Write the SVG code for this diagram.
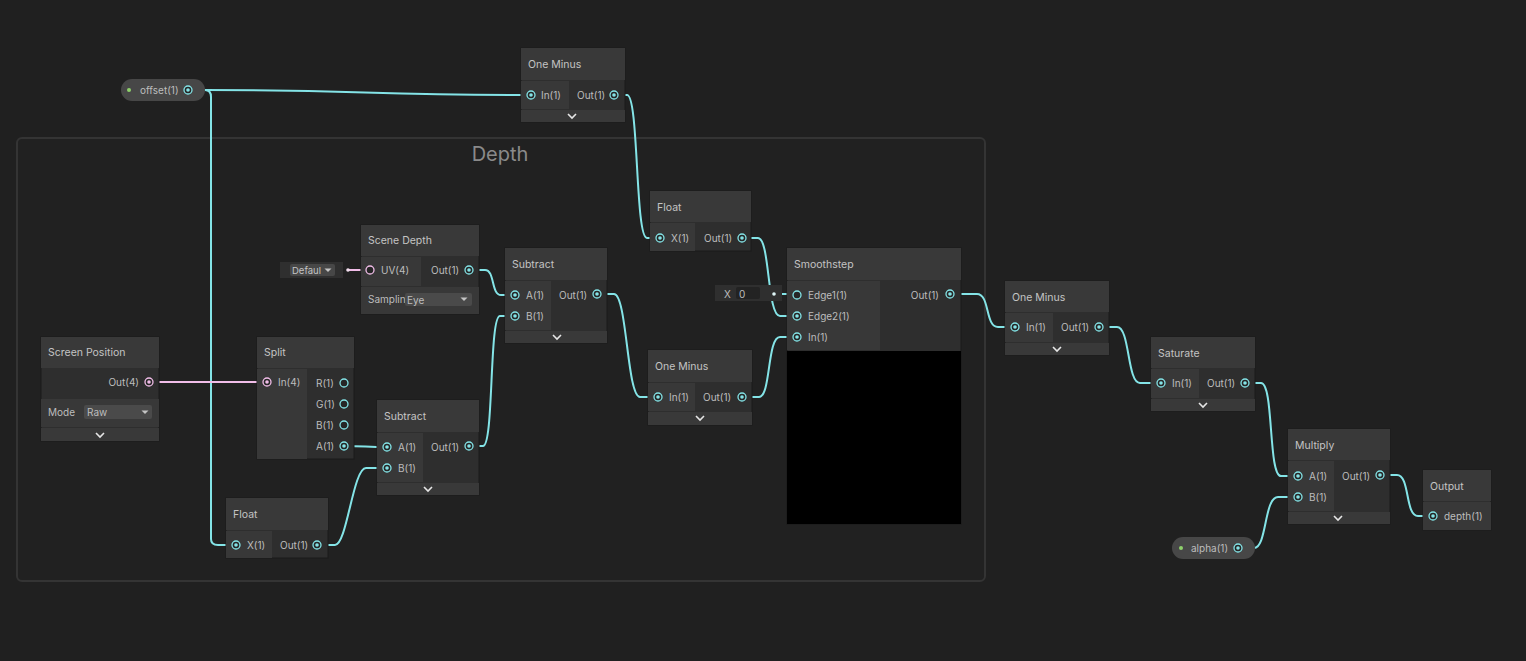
<svg xmlns="http://www.w3.org/2000/svg" width="1526" height="661" viewBox="0 0 1526 661">
<style>
.bg{fill:#202020}
.nb{fill:#2e2e2e;stroke:#1b1b1b;stroke-width:1}
.hd{fill:#393939}
.ic{fill:#383838}
.ft{fill:#393939}
.h{font-family:Inter,"Liberation Sans",sans-serif;font-size:10.5px;fill:#c4c4c4}
.t{font-family:Inter,"Liberation Sans",sans-serif;font-size:10px;fill:#bdbdbd}
.ts{font-family:Inter,"Liberation Sans",sans-serif;font-size:9.5px;fill:#c4c4c4}
.e{stroke:#84e4e7;stroke-width:2;fill:none}
.ep{stroke:#f1bde8;stroke-width:2;fill:none}
.ch{stroke:#e6e6e6;stroke-width:1.6;fill:none}
.dd{fill:#4a4a4a}
.tri{fill:#c4c4c4}
.pill{fill:#474747}
.gd{fill:#8ed16b}
</style>
<defs>
<g id="pf"><circle r="4" fill="#262626" stroke="#84e4e7" stroke-width="1.3"/><circle r="1.8" fill="#84e4e7"/></g>
<g id="ph"><circle r="4" fill="#262626" stroke="#84e4e7" stroke-width="1.3"/></g>
<g id="ppf"><circle r="4" fill="#262626" stroke="#f1bde8" stroke-width="1.3"/><circle r="1.8" fill="#f1bde8"/></g>
<g id="pph"><circle r="4" fill="#262626" stroke="#f1bde8" stroke-width="1.3"/></g>
<path id="chev" d="M-4,-2 L0,2 L4,-2" class="ch"/>
<path id="tr" d="M-3.5,-1.5 L3.5,-1.5 L0,2 Z" class="tri"/>
<clipPath id="clipSamp"><rect x="361" y="287" width="44" height="27"/></clipPath>
</defs>
<rect class="bg" x="0" y="0" width="1526" height="661"/>

<g id="group-depth">
<rect x="17" y="138" width="968" height="443" rx="5" fill="#212121" stroke="#343434" stroke-width="2"/>
<text x="500" y="161" text-anchor="middle" font-family="Inter,'Liberation Sans',sans-serif" font-size="20" fill="#8a8a8a">Depth</text>
</g>

<g id="connectors">
<path class="e" d="M188,90 H205 C360,90 370,95 531,95"/>
<path class="e" d="M205,90 Q211,90 211,97 V539 Q211,545 218,545 H236"/>
<path class="e" d="M614,95 H627 C639,95 635,238 647,238 H660"/>
<path class="e" d="M742,238 H758 C770,238 767,316 780,316 H797"/>
<path class="e" d="M774,294 H797"/>
<path class="e" d="M469,270 H485 C495,270 491,295 501,295 H515"/>
<path class="e" d="M469,446 H483 C494,446 489,316 500,316 H515"/>
<path class="e" d="M344,446 C365,446 366,447 387,447"/>
<path class="e" d="M317,545 H335 C347,545 353,468 366,468 H387"/>
<path class="e" d="M597,294 H614 C627,294 627,397 640,397 H658"/>
<path class="e" d="M742,397 H759 C771,397 767,337 780,337 H797"/>
<path class="e" d="M950,294 H977 C990,294 985,327 998,327 H1015"/>
<path class="e" d="M1099,327 H1117 C1130,327 1127,383 1140,383 H1161"/>
<path class="e" d="M1245,383 H1261 C1274,383 1268,476 1281,476 H1298"/>
<path class="e" d="M1238,548 H1254 C1267,548 1264,497 1278,497 H1298"/>
<path class="e" d="M1380,475 H1397 C1410,475 1405,516 1418,516 H1433"/>
<path class="ep" d="M149,382 H267"/>
<path class="ep" d="M348,270 H370"/>
</g>

<g id="node-offset">
<rect class="pill" x="121" y="79" width="84" height="22" rx="11"/>
<circle class="gd" cx="129" cy="90" r="2"/>
<text class="t" x="140" y="94">offset(1)</text>
<use href="#pf" x="188" y="90"/>
</g>

<g id="node-oneminus-top">
<rect class="nb" x="521" y="48" width="104" height="74"/>
<rect class="hd" x="521" y="48" width="104" height="32"/>
<rect class="ic" x="521" y="81" width="48" height="28"/>
<rect class="ft" x="521" y="110" width="104" height="12"/>
<text class="h" x="528" y="68">One Minus</text>
<use href="#pf" x="531" y="95"/>
<text class="t" x="541" y="99">In(1)</text>
<text class="t" x="577" y="99">Out(1)</text>
<use href="#pf" x="614" y="95"/>
<use href="#chev" x="572" y="116"/>
</g>

<g id="node-float-top">
<rect class="nb" x="650" y="191" width="101" height="60"/>
<rect class="hd" x="650" y="191" width="101" height="31"/>
<rect class="ic" x="650" y="223" width="45" height="28"/>
<text class="h" x="657" y="211">Float</text>
<use href="#pf" x="660" y="238"/>
<text class="t" x="671" y="242">X(1)</text>
<text class="t" x="704" y="242">Out(1)</text>
<use href="#pf" x="742" y="238"/>
</g>

<g id="node-scene-depth">
<rect x="280" y="262" width="63" height="16" fill="#2f2f2f"/>
<rect x="290" y="264" width="45" height="12" rx="2" fill="#474747"/>
<text class="ts" x="292" y="273.5">Defaul</text>
<use href="#tr" x="328" y="270"/>
<circle cx="348" cy="270" r="1.8" fill="#f4e0f0"/>
<rect class="nb" x="361" y="225" width="118" height="89"/>
<rect class="hd" x="361" y="225" width="118" height="31"/>
<rect class="ic" x="361" y="257" width="60" height="29"/>
<rect class="ic" x="361" y="287" width="118" height="27"/>
<text class="h" x="368" y="244">Scene Depth</text>
<use href="#pph" x="370" y="270"/>
<text class="t" x="381" y="274">UV(4)</text>
<text class="t" x="431" y="274">Out(1)</text>
<use href="#pf" x="469" y="270"/>
<text class="t" x="368" y="303" clip-path="url(#clipSamp)">Samplin</text>
<rect class="dd" x="405" y="293" width="67" height="13" rx="2"/>
<text class="t" x="407" y="303.5">Eye</text>
<use href="#tr" x="464" y="299"/>
</g>

<g id="node-subtract-top">
<rect class="nb" x="505" y="248" width="102" height="95"/>
<rect class="hd" x="505" y="248" width="102" height="32"/>
<rect class="ic" x="505" y="281" width="46" height="49"/>
<rect class="ft" x="505" y="331" width="102" height="12"/>
<text class="h" x="512" y="268">Subtract</text>
<use href="#pf" x="515" y="295"/>
<text class="t" x="526" y="299">A(1)</text>
<use href="#pf" x="515" y="316"/>
<text class="t" x="526" y="320">B(1)</text>
<text class="t" x="559" y="299">Out(1)</text>
<use href="#pf" x="597" y="294"/>
<use href="#chev" x="557" y="337"/>
</g>

<g id="node-screen-position">
<rect class="nb" x="41" y="337" width="118" height="104"/>
<rect class="hd" x="41" y="337" width="118" height="31"/>
<rect class="ic" x="41" y="399" width="118" height="28"/>
<rect class="ft" x="41" y="428" width="118" height="13"/>
<text class="h" x="48" y="356">Screen Position</text>
<text class="t" x="139" y="386" text-anchor="end">Out(4)</text>
<use href="#ppf" x="149" y="382"/>
<text class="t" x="48" y="416">Mode</text>
<rect class="dd" x="84" y="405" width="68" height="14" rx="2"/>
<text class="t" x="87" y="416">Raw</text>
<use href="#tr" x="145" y="412"/>
<use href="#chev" x="100" y="435"/>
</g>

<g id="node-split">
<rect class="nb" x="257" y="337" width="97" height="122"/>
<rect class="hd" x="257" y="337" width="97" height="31"/>
<rect class="ic" x="257" y="369" width="50" height="90"/>
<text class="h" x="264" y="356">Split</text>
<use href="#ppf" x="267" y="382"/>
<text class="t" x="278" y="386">In(4)</text>
<text class="t" x="316" y="387">R(1)</text>
<use href="#ph" x="344" y="383"/>
<text class="t" x="316" y="408">G(1)</text>
<use href="#ph" x="344" y="404"/>
<text class="t" x="316" y="429">B(1)</text>
<use href="#ph" x="344" y="425"/>
<text class="t" x="316" y="450">A(1)</text>
<use href="#pf" x="344" y="446"/>
</g>

<g id="node-subtract-lower">
<rect class="nb" x="377" y="400" width="102" height="95"/>
<rect class="hd" x="377" y="400" width="102" height="32"/>
<rect class="ic" x="377" y="433" width="46" height="49"/>
<rect class="ft" x="377" y="483" width="102" height="12"/>
<text class="h" x="384" y="420">Subtract</text>
<use href="#pf" x="387" y="447"/>
<text class="t" x="398" y="451">A(1)</text>
<use href="#pf" x="387" y="468"/>
<text class="t" x="398" y="472">B(1)</text>
<text class="t" x="431" y="451">Out(1)</text>
<use href="#pf" x="469" y="446"/>
<use href="#chev" x="428" y="489"/>
</g>

<g id="node-float-bottom">
<rect class="nb" x="226" y="498" width="102" height="60"/>
<rect class="hd" x="226" y="498" width="102" height="32"/>
<rect class="ic" x="226" y="531" width="46" height="27"/>
<text class="h" x="233" y="518">Float</text>
<use href="#pf" x="236" y="545"/>
<text class="t" x="247" y="549">X(1)</text>
<text class="t" x="280" y="549">Out(1)</text>
<use href="#pf" x="317" y="545"/>
</g>

<g id="node-oneminus-mid">
<rect class="nb" x="648" y="350" width="104" height="75"/>
<rect class="hd" x="648" y="350" width="104" height="32"/>
<rect class="ic" x="648" y="383" width="47" height="28"/>
<rect class="ft" x="648" y="412" width="104" height="13"/>
<text class="h" x="655" y="370">One Minus</text>
<use href="#pf" x="658" y="397"/>
<text class="t" x="669" y="401">In(1)</text>
<text class="t" x="703" y="401">Out(1)</text>
<use href="#pf" x="742" y="397"/>
<use href="#chev" x="700" y="418"/>
</g>

<g id="node-smoothstep">
<rect x="715" y="285" width="67" height="16" fill="#2f2f2f"/>
<text class="t" x="724" y="297.5">X</text>
<rect x="736" y="287" width="24" height="12" rx="2" fill="#232323"/>
<text class="t" x="739" y="297.5">0</text>
<circle cx="774" cy="294" r="1.8" fill="#dff6f7"/>
<rect class="nb" x="787" y="248" width="174" height="276"/>
<rect class="hd" x="787" y="248" width="174" height="32"/>
<rect class="ic" x="787" y="281" width="93" height="69"/>
<rect x="787" y="351" width="174" height="173" fill="#000"/>
<text class="h" x="794" y="268">Smoothstep</text>
<use href="#ph" x="797" y="295"/>
<text class="t" x="808" y="299">Edge1(1)</text>
<use href="#pf" x="797" y="316"/>
<text class="t" x="808" y="320">Edge2(1)</text>
<use href="#pf" x="797" y="337"/>
<text class="t" x="808" y="341">In(1)</text>
<text class="t" x="939" y="299" text-anchor="end">Out(1)</text>
<use href="#pf" x="950" y="294"/>
</g>

<g id="node-oneminus-right">
<rect class="nb" x="1005" y="281" width="104" height="74"/>
<rect class="hd" x="1005" y="281" width="104" height="31"/>
<rect class="ic" x="1005" y="313" width="48" height="29"/>
<rect class="ft" x="1005" y="343" width="104" height="12"/>
<text class="h" x="1012" y="301">One Minus</text>
<use href="#pf" x="1015" y="327"/>
<text class="t" x="1026" y="331">In(1)</text>
<text class="t" x="1061" y="331">Out(1)</text>
<use href="#pf" x="1099" y="327"/>
<use href="#chev" x="1057" y="349"/>
</g>

<g id="node-saturate">
<rect class="nb" x="1151" y="337" width="104" height="74"/>
<rect class="hd" x="1151" y="337" width="104" height="31"/>
<rect class="ic" x="1151" y="369" width="48" height="29"/>
<rect class="ft" x="1151" y="399" width="104" height="12"/>
<text class="h" x="1158" y="357">Saturate</text>
<use href="#pf" x="1161" y="383"/>
<text class="t" x="1172" y="387">In(1)</text>
<text class="t" x="1207" y="387">Out(1)</text>
<use href="#pf" x="1245" y="383"/>
<use href="#chev" x="1203" y="405"/>
</g>

<g id="node-multiply">
<rect class="nb" x="1288" y="429" width="102" height="95"/>
<rect class="hd" x="1288" y="429" width="102" height="31"/>
<rect class="ic" x="1288" y="461" width="46" height="50"/>
<rect class="ft" x="1288" y="512" width="102" height="12"/>
<text class="h" x="1295" y="449">Multiply</text>
<use href="#pf" x="1298" y="476"/>
<text class="t" x="1309" y="480">A(1)</text>
<use href="#pf" x="1298" y="497"/>
<text class="t" x="1309" y="501">B(1)</text>
<text class="t" x="1342" y="480">Out(1)</text>
<use href="#pf" x="1380" y="475"/>
<use href="#chev" x="1338" y="518"/>
</g>

<g id="node-output">
<rect class="nb" x="1423" y="470" width="68" height="60"/>
<rect class="hd" x="1423" y="470" width="68" height="31"/>
<rect class="ic" x="1423" y="502" width="68" height="28"/>
<text class="h" x="1430" y="490">Output</text>
<use href="#pf" x="1433" y="516"/>
<text class="t" x="1444" y="520">depth(1)</text>
</g>

<g id="node-alpha">
<rect class="pill" x="1172" y="537" width="83" height="22" rx="11"/>
<circle class="gd" cx="1181" cy="548" r="2"/>
<text class="t" x="1191" y="552">alpha(1)</text>
<use href="#pf" x="1238" y="548"/>
</g>
</svg>
